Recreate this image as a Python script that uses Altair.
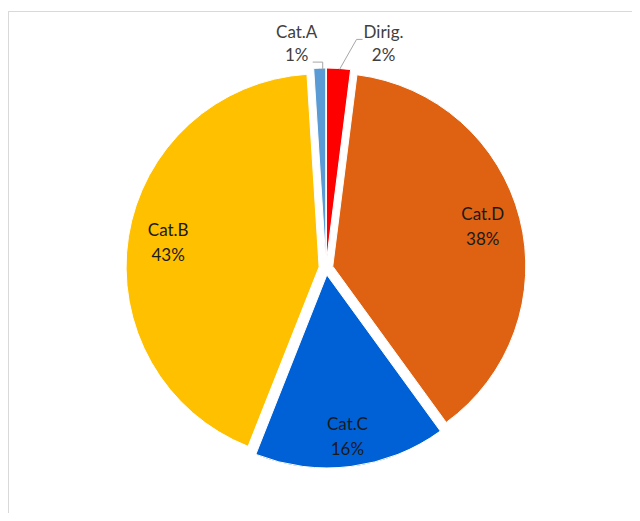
import altair as alt
import pandas as pd

# ---- data (clockwise from 12 o'clock) ----
categories = ["Dirig.", "Cat.D", "Cat.C", "Cat.B", "Cat.A"]
values = [2, 38, 16, 43, 1]
colors = ["#FF0000", "#DE6212", "#0061D6", "#FFC000", "#5B9BD5"]

# ---- style / geometry ----
W, H = 624, 505
CX, CY = 318, 260
R = 193          # pie radius
D = 7            # explosion distance
FONT = "Lato"
FS = 17

df = pd.DataFrame({"cat": categories, "value": values, "idx": list(range(len(categories)))})

base = (
    alt.Chart(df)
    .transform_window(cum="sum(value)", sort=[alt.SortField("idx")], frame=[None, 0])
    .transform_joinaggregate(total="sum(value)")
    .transform_calculate(t0="2*PI*(datum.cum-datum.value)/datum.total")
    .transform_calculate(t1="2*PI*datum.cum/datum.total")
    .transform_calculate(mid="(datum.t0+datum.t1)/2")
    .transform_calculate(pct="datum.value/datum.total")
    .transform_calculate(sx=f"{CX}+{D}*sin(datum.mid)")
    .transform_calculate(sy=f"{CY}-{D}*cos(datum.mid)")
    .transform_calculate(ex=f"datum.sx+{R}*sin(datum.mid)")
    .transform_calculate(ey=f"datum.sy-{R}*cos(datum.mid)")
    .transform_calculate(side="datum.mid > PI ? -1 : 1")
    .transform_calculate(label="datum.cat + '\\n' + format(datum.pct, '.0%')")
)

arcs = base.mark_arc(outerRadius=R, stroke="white", strokeWidth=1).encode(
    x=alt.X("sx:Q", scale=None, axis=None),
    y=alt.Y("sy:Q", scale=None, axis=None),
    theta=alt.Theta("t0:Q", scale=None),
    theta2="t1:Q",
    color=alt.Color("cat:N", scale=alt.Scale(domain=categories, range=colors), legend=None),
)

inside = (
    base.transform_filter("datum.pct >= 0.05")
    .transform_calculate(lr="170 - 40*datum.pct")
    .transform_calculate(lx="datum.sx+datum.lr*sin(datum.mid)")
    .transform_calculate(ly="datum.sy-datum.lr*cos(datum.mid)")
    .mark_text(lineBreak="\n", font=FONT, fontSize=FS, lineHeight=25, dy=-12.5,
               color="#1a1a1a", align="center", baseline="middle")
    .encode(x=alt.X("lx:Q", scale=None), y=alt.Y("ly:Q", scale=None), text="label:N")
)

# outside labels for small slices: offsets per side (style)
outside_base = base.transform_filter("datum.pct < 0.05")

outside = (
    outside_base
    .transform_calculate(lx="datum.side < 0 ? datum.ex - 23 : datum.ex + 45")
    .transform_calculate(ly="datum.ey - 24")
    .mark_text(lineBreak="\n", font=FONT, fontSize=FS, lineHeight=23, dy=-11.5,
               color="#404040", align="center", baseline="middle")
    .encode(x=alt.X("lx:Q", scale=None), y=alt.Y("ly:Q", scale=None), text="label:N")
)

seg1 = (
    outside_base
    .transform_calculate(ax="datum.side < 0 ? datum.ex + 3 : datum.ex + 1")
    .transform_calculate(ay="datum.ey + 1")
    .transform_calculate(bx="datum.side < 0 ? datum.ex + 3 : datum.ex + 18")
    .transform_calculate(by="datum.side < 0 ? datum.ey - 6 : datum.ey - 29")
    .mark_rule(color="#a6a6a6", strokeWidth=1)
    .encode(x=alt.X("ax:Q", scale=None), y=alt.Y("ay:Q", scale=None),
            x2="bx:Q", y2="by:Q")
)

seg2 = (
    outside_base
    .transform_calculate(ax="datum.side < 0 ? datum.ex + 3 : datum.ex + 18")
    .transform_calculate(ay="datum.side < 0 ? datum.ey - 6 : datum.ey - 29")
    .transform_calculate(bx="datum.side < 0 ? datum.ex - 7 : datum.ex + 24")
    .mark_rule(color="#a6a6a6", strokeWidth=1)
    .encode(x=alt.X("ax:Q", scale=None), y=alt.Y("ay:Q", scale=None),
            x2="bx:Q", y2="ay:Q")
)

frame_df = pd.DataFrame({"k": [0]})
top_line = alt.Chart(frame_df).mark_rule(color="#d9d9d9", strokeWidth=1).encode(
    x=alt.value(0), x2=alt.value(W), y=alt.value(3.5)
)
left_line = alt.Chart(frame_df).mark_rule(color="#d9d9d9", strokeWidth=1).encode(
    x=alt.value(0.5), y=alt.value(3.5), y2=alt.value(H)
)

chart = (
    alt.layer(top_line, left_line, arcs, seg1, seg2, inside, outside)
    .properties(width=W, height=H, padding=0, autosize="none", background="white")
    .configure_view(stroke=None)
)

chart.save("out.html", embed_options={"renderer": "svg", "actions": False})
